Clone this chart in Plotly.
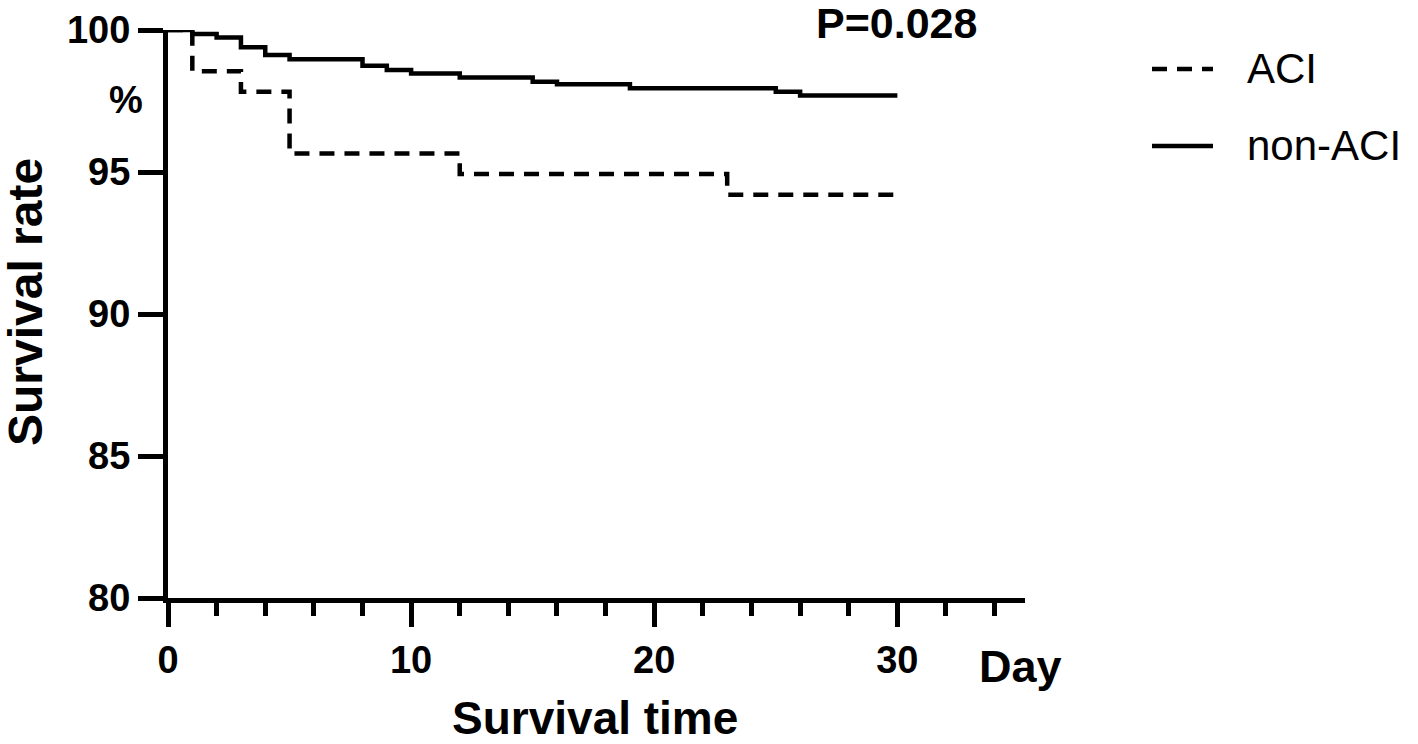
import plotly.graph_objects as go

# ---- data ----
aci_days = [0, 1, 3, 5, 12, 23, 30]
aci_surv = [100, 98.55, 97.83, 95.65, 94.93, 94.2, 94.2]

non_days = [0, 1, 2, 3, 4, 5, 8, 9, 10, 12, 15, 16, 19, 25, 26, 30]
non_surv = [100, 99.86, 99.74, 99.39, 99.12, 98.97, 98.74, 98.59, 98.47, 98.33,
            98.18, 98.09, 97.95, 97.83, 97.69, 97.69]

x_ticks = [0, 10, 20, 30]
y_ticks = [80, 85, 90, 95, 100]

W, H = 1418, 744
L, R, T, B = 168, 393, 30, 146
PW, PH = W - L - R, H - T - B

def px(x):
    return (x - L) / PW

def py(y):
    return (H - B - y) / PH

FONT = "Liberation Sans, Arial, Helvetica, sans-serif"

fig = go.Figure()
fig.add_trace(go.Scatter(x=aci_days, y=aci_surv, mode="lines", line_shape="hv",
                         line=dict(color="black", width=4.5, dash="15px,10px"),
                         name="ACI", showlegend=False))
fig.add_trace(go.Scatter(x=non_days, y=non_surv, mode="lines", line_shape="hv",
                         line=dict(color="black", width=4.5),
                         name="non-ACI", showlegend=False))

fig.update_layout(
    width=W, height=H,
    margin=dict(l=L, r=R, t=T, b=B, pad=0, autoexpand=False),
    plot_bgcolor="white", paper_bgcolor="white",
    xaxis=dict(range=[0, 35.25], tickvals=x_ticks, ticks="outside", ticklen=24,
               tickwidth=4.5, tickcolor="black", showline=True, linewidth=5,
               linecolor="black", showgrid=False, zeroline=False, automargin=False,
               tickfont=dict(family=FONT, size=38, color="black", weight="bold"),
               minor=dict(dtick=2, tick0=0, ticks="outside", ticklen=13,
                          tickwidth=4.5, tickcolor="black", showgrid=False)),
    yaxis=dict(range=[80, 100], tickvals=y_ticks, ticks="outside", ticklen=25,
               tickwidth=4.5, tickcolor="black", showline=True, linewidth=5,
               linecolor="black", showgrid=False, zeroline=False, automargin=False,
               tickfont=dict(family=FONT, size=38, color="black", weight="bold")),
    showlegend=False,
)

ann = [
    dict(text="P=0.028", x=px(896), y=py(23), size=43, bold=True),
    dict(text="%", x=px(126), y=py(100), size=38, bold=True),
    dict(text="Survival time", x=px(595), y=py(718), size=46, bold=True),
    dict(text="Survival rate", x=px(25), y=py(302), size=48, bold=True, angle=-90),
]
for a in ann:
    fig.add_annotation(text=a["text"], x=a["x"], y=a["y"], xref="paper", yref="paper",
                       showarrow=False, xanchor="center", yanchor="middle",
                       textangle=a.get("angle", 0),
                       font=dict(family=FONT, size=a["size"], color="black",
                                 weight="bold" if a["bold"] else "normal"))

fig.add_annotation(text="Day", x=px(977), y=py(667), xref="paper", yref="paper",
                   showarrow=False, xanchor="left", yanchor="middle",
                   font=dict(family=FONT, size=45, color="black", weight="bold"))

# legend
legend_items = [("ACI", "15px,10px", 69), ("non-ACI", "solid", 146)]
for label, dash, yy in legend_items:
    fig.add_shape(type="line", xref="paper", yref="paper",
                  x0=px(1152), x1=px(1213), y0=py(yy), y1=py(yy),
                  line=dict(color="black", width=4.5, dash=dash))
    fig.add_annotation(text=label, x=px(1245), y=py(yy), xref="paper", yref="paper",
                       showarrow=False, xanchor="left", yanchor="middle",
                       font=dict(family=FONT, size=42, color="black"))

fig.write_html("out.html", config={"displayModeBar": False},
               post_script="document.body.style.margin='0';document.body.style.overflow='hidden';")
